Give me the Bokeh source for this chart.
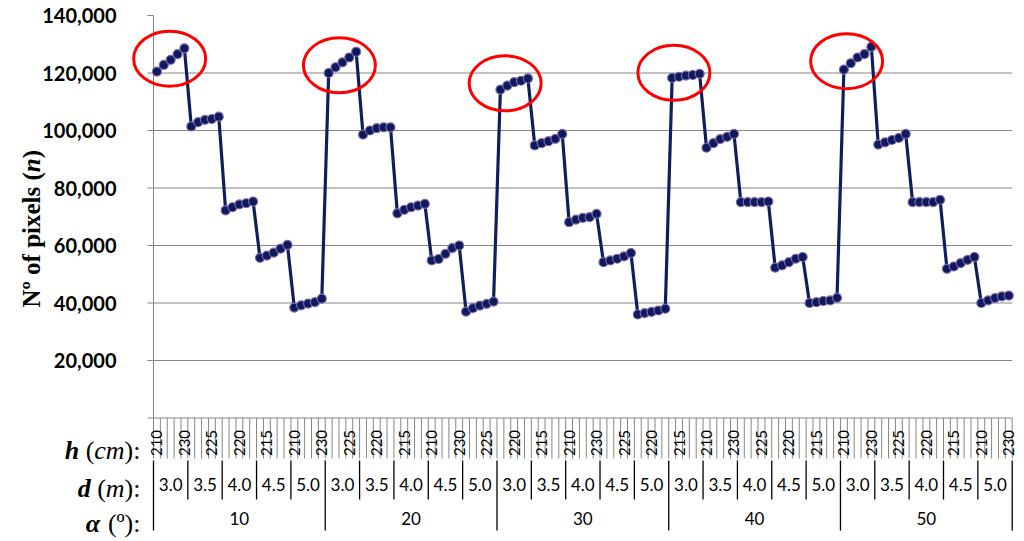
import math
from bokeh.plotting import figure
from bokeh.models import Range1d
from bokeh.core.properties import value
from bokeh.embed import file_html
from bokeh.resources import INLINE

# ---------------- data ----------------
alpha_levels = ["10", "20", "30", "40", "50"]
d_levels = ["3.0", "3.5", "4.0", "4.5", "5.0"]
h_levels = ["210", "215", "220", "225", "230"]

n_alpha10 = [120500, 122800, 124600, 126600, 128600,
             101400, 102900, 103700, 104000, 104800,
             72200, 73300, 74300, 74700, 75300,
             55700, 56500, 57500, 58900, 60200,
             38400, 39200, 39800, 40300, 41500]
n_alpha20 = [120000, 122000, 123700, 125400, 127400,
             98600, 100000, 100800, 101100, 101100,
             71200, 72400, 73300, 73900, 74500,
             54800, 55300, 57100, 59100, 60000,
             37000, 38200, 39100, 39700, 40500]
n_alpha30 = [114200, 115600, 116800, 117300, 118100,
             94800, 95600, 96300, 97100, 98800,
             68100, 69000, 69600, 69900, 71000,
             54200, 54800, 55400, 56200, 57400,
             36000, 36500, 36900, 37400, 38000]
n_alpha40 = [118300, 118700, 119100, 119300, 119700,
             94000, 95600, 97000, 97800, 98800,
             75100, 75100, 75100, 75100, 75300,
             52300, 53100, 54200, 55400, 56000,
             40000, 40300, 40700, 40900, 41800]
n_alpha50 = [121200, 123400, 125400, 126600, 129100,
             95100, 95900, 96700, 97400, 98800,
             75100, 75100, 75100, 75100, 75900,
             51900, 52700, 53900, 55000, 56000,
             40000, 40900, 41700, 42300, 42600]

y_ticks = [20000, 40000, 60000, 80000, 100000, 120000, 140000]
y_tick_labels = ["20,000", "40,000", "60,000", "80,000", "100,000", "120,000", "140,000"]
circled_d = "3.0"

# ---------------- layout (page pixels) ----------------
W, H = 1024, 541
CANVAS_X, CANVAS_Y = 0, 0
PLOT_LEFT, PLOT_RIGHT = 153.0, 1011.7
ZERO_Y, PX_PER_20K = 417.5, 57.5

series = [n_alpha10, n_alpha20, n_alpha30, n_alpha40, n_alpha50]
values = [v for s in series for v in s]
cats = [(a, d, h) for a in alpha_levels for d in d_levels for h in h_levels]
n_cat = len(cats)
cat_px = (PLOT_RIGHT - PLOT_LEFT) / n_cat


def X(px):
    return (px - PLOT_LEFT) / cat_px


def Y(py):
    return (ZERO_Y - py) * 20000.0 / PX_PER_20K


p = figure(width=W, height=H,
           x_range=Range1d(X(CANVAS_X), X(CANVAS_X + W)),
           y_range=Range1d(Y(CANVAS_Y + H), Y(CANVAS_Y)),
           output_backend="svg", toolbar_location=None,
           x_axis_location=None, y_axis_location=None,
           min_border=0, outline_line_color=None)
p.grid.visible = False
p.background_fill_color = "white"
p.border_fill_color = "white"

GRAY = "#868686"
xs = [i + 0.5 for i in range(n_cat)]

# gridlines
grid_vals = [t for t in y_ticks if t < max(y_ticks)]
p.segment(x0=[0] * len(grid_vals), y0=grid_vals, x1=[n_cat] * len(grid_vals), y1=grid_vals,
          line_color=GRAY, line_width=1)
# axes
p.segment(x0=[0, 0], y0=[0, 0], x1=[n_cat, 0], y1=[0, max(y_ticks)], line_color=GRAY, line_width=1)
tick_vals = [0] + y_ticks
p.segment(x0=[X(147)] * len(tick_vals), y0=tick_vals, x1=[0] * len(tick_vals), y1=tick_vals,
          line_color=GRAY, line_width=1)

# category boundary ticks
bounds = list(range(n_cat + 1))
p.segment(x0=bounds, y0=[0] * len(bounds), x1=bounds, y1=[Y(458)] * len(bounds),
          line_color=GRAY, line_width=1)
# group separators
nd = len(d_levels) * len(h_levels)
nh = len(h_levels)
a_sep = [k for k in bounds if k % nd == 0]
d_sep = [k for k in bounds if k % nh == 0 and k % nd != 0]
p.segment(x0=a_sep, y0=[Y(460)] * len(a_sep), x1=a_sep, y1=[Y(530)] * len(a_sep),
          line_color="black", line_width=1.3)
p.segment(x0=d_sep, y0=[Y(460)] * len(d_sep), x1=d_sep, y1=[Y(499)] * len(d_sep),
          line_color="black", line_width=1.3)

# y tick labels
p.text(x=[X(116)] * len(y_ticks), y=y_ticks, text=y_tick_labels,
       text_align="right", text_baseline="middle", text_font=value("Lato"),
       text_font_style="bold", text_font_size="20px", text_color="black")

# h labels (every 4th category)
h_idx = [i for i in range(n_cat) if i % 4 == 0]
p.text(x=[xs[i] for i in h_idx], y=[Y(442.5)] * len(h_idx), text=[cats[i][2] for i in h_idx],
       angle=math.pi / 2, text_align="center", text_baseline="middle",
       text_font=value("Lato"), text_font_size="15px", text_color="black")
# d labels
d_x = [k * nh + nh / 2 for k in range(len(alpha_levels) * len(d_levels))]
d_txt = [d for a in alpha_levels for d in d_levels]
p.text(x=d_x, y=[Y(484)] * len(d_x), text=d_txt, text_align="center", text_baseline="middle",
       text_font=value("Lato"), text_font_size="17px", text_color="black")
# alpha labels
a_x = [k * nd + nd / 2 for k in range(len(alpha_levels))]
p.text(x=a_x, y=[Y(517.5)] * len(a_x), text=alpha_levels, text_align="center", text_baseline="middle",
       text_font=value("Lato"), text_font_size="17px", text_color="black")


# multi-style texts (Times metrics); pieces: (text, style, width_em, gap_before_em)
def pieces_right(pieces, right_px, base_py, size):
    x = right_px
    for txt, style, wem, gap in reversed(pieces):
        x -= wem * size
        p.text(x=[X(x)], y=[Y(base_py)], text=[txt], text_align="left", text_baseline="alphabetic",
               text_font=value("Liberation Serif"), text_font_style=style,
               text_font_size=f"{size}px", text_color="black")
        x -= gap * size


RS = 26
pieces_right([("h", "bold italic", 0.556, 0), ("(", "normal", 0.333, 0.25), ("cm", "italic", 1.166, 0),
              ("):", "normal", 0.611, 0)], 140, 450, RS)
pieces_right([("d", "bold italic", 0.5, 0), ("(", "normal", 0.333, 0.25), ("m", "italic", 0.722, 0),
              ("):", "normal", 0.611, 0)], 140, 488, RS)
pieces_right([("α", "bold italic", 0.6, 0), ("(º):", "normal", 1.254, 0.25)], 140, 523, RS)

# rotated y title
TS = 25
y_pos = 307.0
for txt, style, wem in [("Nº of pixels (", "bold", 5.413), ("n", "bold italic", 0.556), (")", "bold", 0.333)]:
    p.text(x=[X(31)], y=[Y(y_pos)], text=[txt], angle=math.pi / 2, text_align="left",
           text_baseline="alphabetic", text_font=value("Liberation Serif"), text_font_style=style,
           text_font_size=f"{TS}px", text_color="black")
    y_pos -= wem * TS

# series
p.line(xs, values, line_color="#0F1F5E", line_width=3.2)
p.scatter(xs, values, marker="circle", size=9, fill_color="#0D1A5C",
          line_color="#7F67AD", line_width=1.2)

# red ellipses around the d = 3.0 groups
ell_dx = [-1, -3, -9, -12, -11]
ell_dy = [-1, 3, 0, -3, 3]
ex, ey = [], []
for g, a in enumerate(alpha_levels):
    idx = [i for i, c in enumerate(cats) if c[0] == a and c[1] == circled_d]
    cx = sum(xs[i] for i in idx) / len(idx) + ell_dx[g] / cat_px
    cy = sum(values[i] for i in idx) / len(idx) - ell_dy[g] * 20000.0 / PX_PER_20K
    ex.append(cx)
    ey.append(cy)
p.ellipse(x=ex, y=ey, width=72, height=55, width_units="screen", height_units="screen",
          fill_color=None, line_color="#FF0000", line_width=3)

open("out.html", "w").write(file_html(p, INLINE))
